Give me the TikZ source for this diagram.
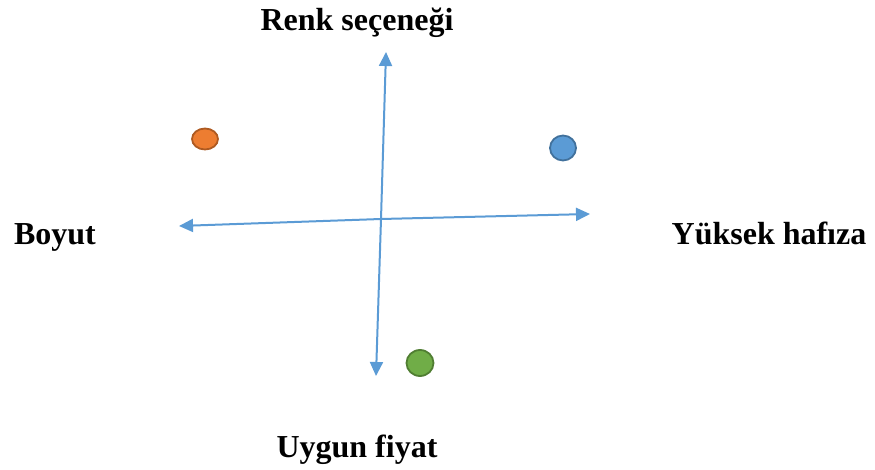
\documentclass[tikz,border=0pt]{standalone}
\usepackage{fontspec}
\setmainfont{Liberation Serif}
\usetikzlibrary{arrows.meta,shapes.geometric}
\definecolor{axisblue}{HTML}{5B9BD5}
\definecolor{orangefill}{HTML}{ED7D31}
\definecolor{orangeedge}{HTML}{AE5A21}
\definecolor{bluefill}{HTML}{5B9BD5}
\definecolor{blueedge}{HTML}{41719C}
\definecolor{greenfill}{HTML}{70AD47}
\definecolor{greenedge}{HTML}{507E32}
\tikzset{
  axis/.style={draw=axisblue, line width=2pt, -{Triangle[length=14pt,width=13pt]}},
  label/.style={font=\fontsize{32}{37}\selectfont\bfseries, anchor=base, inner sep=0pt},
  dot/.style={ellipse, line width=1.8pt, minimum width=26pt, minimum height=23pt, inner sep=0pt}
}
\begin{document}
\begin{tikzpicture}[x=1pt,y=-1pt]
\useasboundingbox (0,0) rectangle (875,470);
\coordinate (c) at (381,219);
\coordinate (top) at (386,52);
\coordinate (bottom) at (376,376);
\coordinate (left) at (179,226);
\coordinate (right) at (590,214);
\draw[axis] (c) -- (top);
\draw[axis] (c) -- (bottom);
\draw[axis] (c) -- (left);
\draw[axis] (c) -- (right);
\node[dot, fill=orangefill, draw=orangeedge, minimum height=21pt] (o) at (205,139) {};
\node[dot, fill=bluefill, draw=blueedge, minimum height=25pt] (b) at (563,148) {};
\node[dot, fill=greenfill, draw=greenedge, minimum width=27pt, minimum height=26pt] (g) at (420,363) {};
\node[label] (renk) at (357,31) {Renk seçeneği};
\node[label] (boyut) at (55,245) {Boyut};
\node[label] (yuksek) at (769,245) {Yüksek hafıza};
\node[label] (uygun) at (357,457) {Uygun fiyat};
\end{tikzpicture}
\end{document}
